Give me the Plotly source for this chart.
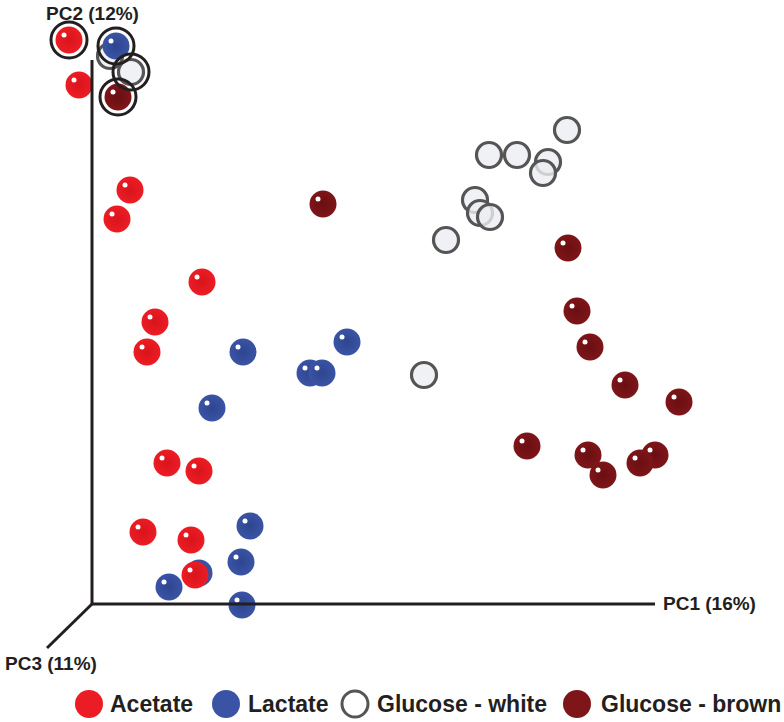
import plotly.graph_objects as go

# PCA scores (arbitrary units; origin at the axes corner)
groups = ["Acetate", "Lactate", "Glucose - white", "Glucose - brown"]

acetate_pc1 = [-23, -13, 38, 25, 110, 63, 55, 75, 107, 51, 99, 103]
acetate_pc2 = [564, 519, 414, 385, 322, 282, 252, 141, 133, 72, 64, 29]

lactate_pc1 = [24, 151, 255, 218, 230, 120, 158, 149, 77, 150, 107]
lactate_pc2 = [558, 252, 262, 231, 231, 196, 78, 42, 17, -1, 31]

gwhite_pc1 = [18, 39, 475, 397, 425, 456, 451, 383, 388, 398, 354, 332]
gwhite_pc2 = [548, 532, 474, 449, 449, 442, 431, 404, 391, 387, 364, 229]

gbrown_pc1 = [26, 231, 476, 485, 498, 533, 587, 435, 496, 511, 563, 548]
gbrown_pc2 = [507, 400, 356, 293, 257, 219, 202, 158, 149, 129, 149, 141]

# indices of samples circled in black
highlight = {"Acetate": [0], "Lactate": [0], "Glucose - white": [1], "Glucose - brown": [0]}

axis_labels = ["PC1 (16%)", "PC2 (12%)", "PC3 (11%)"]

data = {
    "Acetate": (acetate_pc1, acetate_pc2),
    "Lactate": (lactate_pc1, lactate_pc2),
    "Glucose - white": (gwhite_pc1, gwhite_pc2),
    "Glucose - brown": (gbrown_pc1, gbrown_pc2),
}
colors = {
    "Acetate": "#EC1C24",
    "Lactate": "#3A53A4",
    "Glucose - white": "rgba(236,238,241,0.8)",
    "Glucose - brown": "#7E1519",
}
edge = {
    "Acetate": "#D9141C",
    "Lactate": "#2E4690",
    "Glucose - brown": "#6A0F12",
}
INK = "#231F20"

fig = go.Figure()

# drawing order
for g in ["Glucose - white", "Lactate", "Acetate", "Glucose - brown"]:
    xs, ys = data[g]
    if g == "Glucose - white":
        fig.add_trace(go.Scatter(
            x=xs, y=ys, mode="markers", name=g, showlegend=False, hoverinfo="skip",
            marker=dict(size=25, color=colors[g], line=dict(color="#555555", width=3.2))))
    else:
        fig.add_trace(go.Scatter(
            x=xs, y=ys, mode="markers", name=g, showlegend=False, hoverinfo="skip",
            marker=dict(size=27, color=colors[g], line=dict(width=0),
                        gradient=dict(type="radial", color=edge[g]))))
        # specular highlight
        fig.add_trace(go.Scatter(
            x=[v - 5 for v in xs], y=[v + 5 for v in ys], mode="markers",
            showlegend=False, hoverinfo="skip",
            marker=dict(size=5, color="white", line=dict(width=0))))

# black rings
for g in groups:
    xs, ys = data[g]
    idx = highlight[g]
    fig.add_trace(go.Scatter(
        x=[xs[i] for i in idx], y=[ys[i] for i in idx], mode="markers",
        showlegend=False, hoverinfo="skip",
        marker=dict(size=36, color="rgba(0,0,0,0)", line=dict(color=INK, width=3))))

# axes
fig.add_shape(type="line", x0=0, y0=0, x1=0, y1=544, line=dict(color=INK, width=3))
fig.add_shape(type="line", x0=0, y0=0, x1=563, y1=0, line=dict(color=INK, width=3))
fig.add_shape(type="line", x0=0, y0=0, x1=-45, y1=-44, line=dict(color=INK, width=3))

lab_font = dict(family="Arial, Liberation Sans, sans-serif", size=19, color=INK)
fig.add_annotation(x=0, y=591, text="<b>" + axis_labels[1] + "</b>", showarrow=False,
                   xanchor="center", yanchor="middle", font=lab_font)
fig.add_annotation(x=569, y=1, text="<b>" + axis_labels[0] + "</b>", showarrow=False,
                   xanchor="left", yanchor="middle", font=lab_font)
fig.add_annotation(x=-89, y=-59, text="<b>" + axis_labels[2] + "</b>", showarrow=False,
                   xanchor="left", yanchor="middle", font=lab_font)

# legend
leg_font = dict(family="Arial, Liberation Sans, sans-serif", size=23, color=INK)
leg_sym_x = [-3, 134, 263, 485]
leg_txt_x = [16, 154, 283, 507]
leg_y = -100
for g, sx, tx in zip(groups, leg_sym_x, leg_txt_x):
    if g == "Glucose - white":
        fig.add_shape(type="circle", x0=sx - 13, x1=sx + 13, y0=leg_y - 13, y1=leg_y + 13,
                      fillcolor="white", line=dict(color="#555555", width=3))
    else:
        fig.add_shape(type="circle", x0=sx - 14, x1=sx + 14, y0=leg_y - 14, y1=leg_y + 14,
                      fillcolor=colors[g], line=dict(width=0))
    fig.add_annotation(x=tx, y=leg_y, text="<b>" + g + "</b>", showarrow=False,
                       xanchor="left", yanchor="middle", font=leg_font)

fig.update_layout(
    width=784, height=722, margin=dict(l=0, r=0, t=0, b=0),
    paper_bgcolor="white", plot_bgcolor="white",
    xaxis=dict(range=[-92, 692], visible=False, fixedrange=True),
    yaxis=dict(range=[-118, 604], visible=False, fixedrange=True),
    showlegend=False,
)

fig.write_html(
    "out.html",
    config={"displayModeBar": False},
    post_script="document.body.style.margin='0';document.body.style.overflow='hidden';",
)
